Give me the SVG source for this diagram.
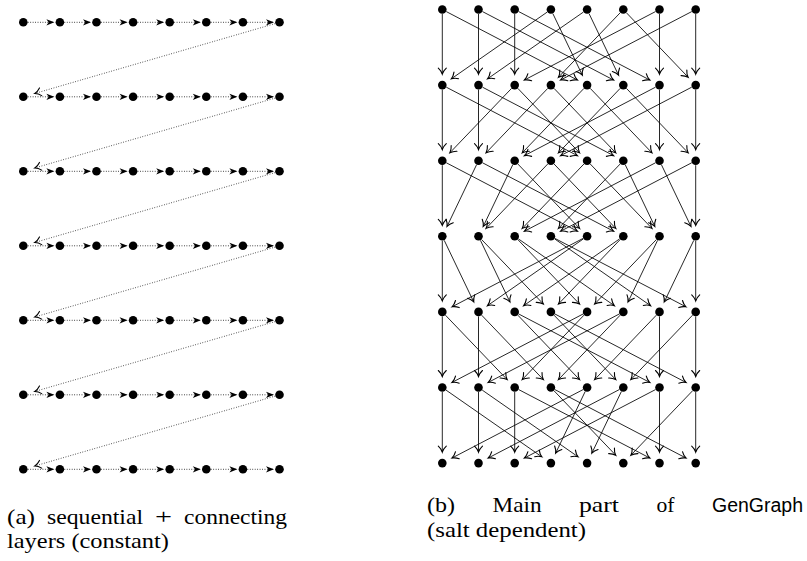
<svg xmlns="http://www.w3.org/2000/svg" width="807" height="561" viewBox="0 0 807 561">
<style>
.n circle{fill:#000}
.e line{stroke:#000;stroke-width:0.85;fill:none;marker-end:url(#to)}
.h line{stroke:#000;stroke-width:0.85;stroke-dasharray:0.85 1.6;marker-end:url(#st)}
.d line{stroke:#000;stroke-width:0.8;stroke-dasharray:0.8 1.7;marker-end:url(#to)}
.cap{font-family:"Liberation Serif","Times New Roman",serif;font-size:21px;fill:#000}
.sans{font-family:"Liberation Sans",Arial,sans-serif;font-size:20px;fill:#000}
</style>
<defs>
<marker id="to" markerUnits="userSpaceOnUse" viewBox="-8 -6 12 12" markerWidth="12" markerHeight="12" refX="0" refY="0" orient="auto" overflow="visible">
<path d="M-6,-4 C-4,-1.8 -1.4,-0.45 0,0 C-1.4,0.45 -4,1.8 -6,4" fill="none" stroke="#000" stroke-width="1.1" stroke-dasharray="none" stroke-linecap="round"/>
</marker>
<marker id="st" markerUnits="userSpaceOnUse" viewBox="-8 -6 12 12" markerWidth="12" markerHeight="12" refX="0" refY="0" orient="auto" overflow="visible">
<path d="M0.5,0 L-7.5,-3.1 L-5.3,0 L-7.5,3.1 Z" fill="#000" stroke="none"/>
</marker>
</defs>

<!-- (a) connectors -->
<g id="a-connectors">
<g class="h" transform="translate(0,22.3)"><line x1="27.8" y1="0" x2="53.9" y2="0"/><line x1="64.4" y1="0" x2="90.5" y2="0"/><line x1="101" y1="0" x2="127.1" y2="0"/><line x1="137.6" y1="0" x2="163.7" y2="0"/><line x1="174.2" y1="0" x2="200.3" y2="0"/><line x1="210.8" y1="0" x2="236.9" y2="0"/><line x1="247.4" y1="0" x2="273.5" y2="0"/></g>
<g class="h" transform="translate(0,96.8)"><line x1="27.8" y1="0" x2="53.9" y2="0"/><line x1="64.4" y1="0" x2="90.5" y2="0"/><line x1="101" y1="0" x2="127.1" y2="0"/><line x1="137.6" y1="0" x2="163.7" y2="0"/><line x1="174.2" y1="0" x2="200.3" y2="0"/><line x1="210.8" y1="0" x2="236.9" y2="0"/><line x1="247.4" y1="0" x2="273.5" y2="0"/></g>
<g class="h" transform="translate(0,171.3)"><line x1="27.8" y1="0" x2="53.9" y2="0"/><line x1="64.4" y1="0" x2="90.5" y2="0"/><line x1="101" y1="0" x2="127.1" y2="0"/><line x1="137.6" y1="0" x2="163.7" y2="0"/><line x1="174.2" y1="0" x2="200.3" y2="0"/><line x1="210.8" y1="0" x2="236.9" y2="0"/><line x1="247.4" y1="0" x2="273.5" y2="0"/></g>
<g class="h" transform="translate(0,245.8)"><line x1="27.8" y1="0" x2="53.9" y2="0"/><line x1="64.4" y1="0" x2="90.5" y2="0"/><line x1="101" y1="0" x2="127.1" y2="0"/><line x1="137.6" y1="0" x2="163.7" y2="0"/><line x1="174.2" y1="0" x2="200.3" y2="0"/><line x1="210.8" y1="0" x2="236.9" y2="0"/><line x1="247.4" y1="0" x2="273.5" y2="0"/></g>
<g class="h" transform="translate(0,320.3)"><line x1="27.8" y1="0" x2="53.9" y2="0"/><line x1="64.4" y1="0" x2="90.5" y2="0"/><line x1="101" y1="0" x2="127.1" y2="0"/><line x1="137.6" y1="0" x2="163.7" y2="0"/><line x1="174.2" y1="0" x2="200.3" y2="0"/><line x1="210.8" y1="0" x2="236.9" y2="0"/><line x1="247.4" y1="0" x2="273.5" y2="0"/></g>
<g class="h" transform="translate(0,394.8)"><line x1="27.8" y1="0" x2="53.9" y2="0"/><line x1="64.4" y1="0" x2="90.5" y2="0"/><line x1="101" y1="0" x2="127.1" y2="0"/><line x1="137.6" y1="0" x2="163.7" y2="0"/><line x1="174.2" y1="0" x2="200.3" y2="0"/><line x1="210.8" y1="0" x2="236.9" y2="0"/><line x1="247.4" y1="0" x2="273.5" y2="0"/></g>
<g class="h" transform="translate(0,469.3)"><line x1="27.8" y1="0" x2="53.9" y2="0"/><line x1="64.4" y1="0" x2="90.5" y2="0"/><line x1="101" y1="0" x2="127.1" y2="0"/><line x1="137.6" y1="0" x2="163.7" y2="0"/><line x1="174.2" y1="0" x2="200.3" y2="0"/><line x1="210.8" y1="0" x2="236.9" y2="0"/><line x1="247.4" y1="0" x2="273.5" y2="0"/></g>
<g class="d">
<line x1="275.18" y1="23.56" x2="34.82" y2="93.45"/>
<line x1="275.18" y1="98.06" x2="34.82" y2="167.95"/>
<line x1="275.18" y1="172.56" x2="34.82" y2="242.45"/>
<line x1="275.18" y1="247.06" x2="34.82" y2="316.95"/>
<line x1="275.18" y1="321.56" x2="34.82" y2="391.45"/>
<line x1="275.18" y1="396.06" x2="34.82" y2="465.95"/>
</g>
</g>

<!-- (b) connectors -->
<g id="b-connectors" class="e">
<g transform="translate(0,9.5)">
<line x1="442.3" y1="4.5" x2="442.3" y2="64.6"/>
<line x1="446.29" y1="2.08" x2="577.35" y2="70.51"/>
<line x1="478.5" y1="4.5" x2="478.5" y2="64.6"/>
<line x1="482.49" y1="2.08" x2="613.55" y2="70.51"/>
<line x1="514.7" y1="4.5" x2="514.7" y2="64.6"/>
<line x1="518.69" y1="2.08" x2="649.75" y2="70.51"/>
<line x1="547.21" y1="2.57" x2="451.33" y2="69.32"/>
<line x1="552.84" y1="4.06" x2="582.35" y2="65.68"/>
<line x1="583.41" y1="2.57" x2="487.53" y2="69.32"/>
<line x1="589.04" y1="4.06" x2="618.55" y2="65.68"/>
<line x1="620.19" y1="3.25" x2="558.51" y2="67.66"/>
<line x1="626.41" y1="3.25" x2="688.09" y2="67.66"/>
<line x1="655.51" y1="2.08" x2="524.45" y2="70.51"/>
<line x1="659.5" y1="4.5" x2="659.5" y2="64.6"/>
<line x1="691.71" y1="2.08" x2="560.65" y2="70.51"/>
<line x1="695.7" y1="4.5" x2="695.7" y2="64.6"/>
</g>
<g transform="translate(0,85.1)">
<line x1="442.3" y1="4.5" x2="442.3" y2="64.6"/>
<line x1="446.29" y1="2.08" x2="577.35" y2="70.51"/>
<line x1="478.5" y1="4.5" x2="478.5" y2="64.6"/>
<line x1="482.49" y1="2.08" x2="613.55" y2="70.51"/>
<line x1="511.59" y1="3.25" x2="449.91" y2="67.66"/>
<line x1="517.81" y1="3.25" x2="579.49" y2="67.66"/>
<line x1="547.79" y1="3.25" x2="486.11" y2="67.66"/>
<line x1="554.01" y1="3.25" x2="615.69" y2="67.66"/>
<line x1="583.99" y1="3.25" x2="522.31" y2="67.66"/>
<line x1="590.21" y1="3.25" x2="651.89" y2="67.66"/>
<line x1="620.19" y1="3.25" x2="558.51" y2="67.66"/>
<line x1="626.41" y1="3.25" x2="688.09" y2="67.66"/>
<line x1="655.51" y1="2.08" x2="524.45" y2="70.51"/>
<line x1="659.5" y1="4.5" x2="659.5" y2="64.6"/>
<line x1="691.71" y1="2.08" x2="560.65" y2="70.51"/>
<line x1="695.7" y1="4.5" x2="695.7" y2="64.6"/>
</g>
<g transform="translate(0,160.7)">
<line x1="442.3" y1="4.5" x2="442.3" y2="64.6"/>
<line x1="446.29" y1="2.08" x2="577.35" y2="70.51"/>
<line x1="476.56" y1="4.06" x2="447.05" y2="65.68"/>
<line x1="482.49" y1="2.08" x2="613.55" y2="70.51"/>
<line x1="512.76" y1="4.06" x2="483.25" y2="65.68"/>
<line x1="517.81" y1="3.25" x2="579.49" y2="67.66"/>
<line x1="547.79" y1="3.25" x2="486.11" y2="67.66"/>
<line x1="554.01" y1="3.25" x2="615.69" y2="67.66"/>
<line x1="583.99" y1="3.25" x2="522.31" y2="67.66"/>
<line x1="590.21" y1="3.25" x2="651.89" y2="67.66"/>
<line x1="620.19" y1="3.25" x2="558.51" y2="67.66"/>
<line x1="625.24" y1="4.06" x2="654.75" y2="65.68"/>
<line x1="655.51" y1="2.08" x2="524.45" y2="70.51"/>
<line x1="661.44" y1="4.06" x2="690.95" y2="65.68"/>
<line x1="691.71" y1="2.08" x2="560.65" y2="70.51"/>
<line x1="695.7" y1="4.5" x2="695.7" y2="64.6"/>
</g>
<g transform="translate(0,236.3)">
<line x1="442.3" y1="4.5" x2="442.3" y2="64.6"/>
<line x1="444.24" y1="4.06" x2="473.75" y2="65.68"/>
<line x1="480.44" y1="4.06" x2="509.95" y2="65.68"/>
<line x1="481.61" y1="3.25" x2="543.29" y2="67.66"/>
<line x1="517.81" y1="3.25" x2="579.49" y2="67.66"/>
<line x1="518.39" y1="2.57" x2="614.27" y2="69.32"/>
<line x1="554.59" y1="2.57" x2="650.47" y2="69.32"/>
<line x1="554.89" y1="2.08" x2="685.95" y2="70.51"/>
<line x1="583.11" y1="2.08" x2="452.05" y2="70.51"/>
<line x1="583.41" y1="2.57" x2="487.53" y2="69.32"/>
<line x1="619.61" y1="2.57" x2="523.73" y2="69.32"/>
<line x1="620.19" y1="3.25" x2="558.51" y2="67.66"/>
<line x1="656.39" y1="3.25" x2="594.71" y2="67.66"/>
<line x1="657.56" y1="4.06" x2="628.05" y2="65.68"/>
<line x1="693.76" y1="4.06" x2="664.25" y2="65.68"/>
<line x1="695.7" y1="4.5" x2="695.7" y2="64.6"/>
</g>
<g transform="translate(0,311.9)">
<line x1="442.3" y1="4.5" x2="442.3" y2="64.6"/>
<line x1="445.41" y1="3.25" x2="507.09" y2="67.66"/>
<line x1="478.5" y1="4.5" x2="478.5" y2="64.6"/>
<line x1="481.61" y1="3.25" x2="543.29" y2="67.66"/>
<line x1="517.81" y1="3.25" x2="579.49" y2="67.66"/>
<line x1="518.69" y1="2.08" x2="649.75" y2="70.51"/>
<line x1="554.01" y1="3.25" x2="615.69" y2="67.66"/>
<line x1="554.89" y1="2.08" x2="685.95" y2="70.51"/>
<line x1="583.11" y1="2.08" x2="452.05" y2="70.51"/>
<line x1="583.99" y1="3.25" x2="522.31" y2="67.66"/>
<line x1="619.31" y1="2.08" x2="488.25" y2="70.51"/>
<line x1="620.19" y1="3.25" x2="558.51" y2="67.66"/>
<line x1="659.5" y1="4.5" x2="659.5" y2="64.6"/>
<line x1="656.39" y1="3.25" x2="594.71" y2="67.66"/>
<line x1="695.7" y1="4.5" x2="695.7" y2="64.6"/>
<line x1="692.59" y1="3.25" x2="630.91" y2="67.66"/>
</g>
<g transform="translate(0,387.5)">
<line x1="442.3" y1="4.5" x2="442.3" y2="64.6"/>
<line x1="445.99" y1="2.57" x2="541.87" y2="69.32"/>
<line x1="478.5" y1="4.5" x2="478.5" y2="64.6"/>
<line x1="482.19" y1="2.57" x2="578.07" y2="69.32"/>
<line x1="514.7" y1="4.5" x2="514.7" y2="64.6"/>
<line x1="518.69" y1="2.08" x2="649.75" y2="70.51"/>
<line x1="554.01" y1="3.25" x2="615.69" y2="67.66"/>
<line x1="554.89" y1="2.08" x2="685.95" y2="70.51"/>
<line x1="583.11" y1="2.08" x2="452.05" y2="70.51"/>
<line x1="585.16" y1="4.06" x2="555.65" y2="65.68"/>
<line x1="619.31" y1="2.08" x2="488.25" y2="70.51"/>
<line x1="621.36" y1="4.06" x2="591.85" y2="65.68"/>
<line x1="659.5" y1="4.5" x2="659.5" y2="64.6"/>
<line x1="655.51" y1="2.08" x2="524.45" y2="70.51"/>
<line x1="695.7" y1="4.5" x2="695.7" y2="64.6"/>
<line x1="692.59" y1="3.25" x2="630.91" y2="67.66"/>
</g>
</g>

<!-- (a) nodes -->
<g id="a-nodes" class="n">
<g id="a0-0"><circle cx="23.3" cy="22.3" r="4.3"/></g><g id="a0-1"><circle cx="59.9" cy="22.3" r="4.3"/></g><g id="a0-2"><circle cx="96.5" cy="22.3" r="4.3"/></g><g id="a0-3"><circle cx="133.1" cy="22.3" r="4.3"/></g><g id="a0-4"><circle cx="169.7" cy="22.3" r="4.3"/></g><g id="a0-5"><circle cx="206.3" cy="22.3" r="4.3"/></g><g id="a0-6"><circle cx="242.9" cy="22.3" r="4.3"/></g><g id="a0-7"><circle cx="279.5" cy="22.3" r="4.3"/></g>
<g id="a1-0"><circle cx="23.3" cy="96.8" r="4.3"/></g><g id="a1-1"><circle cx="59.9" cy="96.8" r="4.3"/></g><g id="a1-2"><circle cx="96.5" cy="96.8" r="4.3"/></g><g id="a1-3"><circle cx="133.1" cy="96.8" r="4.3"/></g><g id="a1-4"><circle cx="169.7" cy="96.8" r="4.3"/></g><g id="a1-5"><circle cx="206.3" cy="96.8" r="4.3"/></g><g id="a1-6"><circle cx="242.9" cy="96.8" r="4.3"/></g><g id="a1-7"><circle cx="279.5" cy="96.8" r="4.3"/></g>
<g id="a2-0"><circle cx="23.3" cy="171.3" r="4.3"/></g><g id="a2-1"><circle cx="59.9" cy="171.3" r="4.3"/></g><g id="a2-2"><circle cx="96.5" cy="171.3" r="4.3"/></g><g id="a2-3"><circle cx="133.1" cy="171.3" r="4.3"/></g><g id="a2-4"><circle cx="169.7" cy="171.3" r="4.3"/></g><g id="a2-5"><circle cx="206.3" cy="171.3" r="4.3"/></g><g id="a2-6"><circle cx="242.9" cy="171.3" r="4.3"/></g><g id="a2-7"><circle cx="279.5" cy="171.3" r="4.3"/></g>
<g id="a3-0"><circle cx="23.3" cy="245.8" r="4.3"/></g><g id="a3-1"><circle cx="59.9" cy="245.8" r="4.3"/></g><g id="a3-2"><circle cx="96.5" cy="245.8" r="4.3"/></g><g id="a3-3"><circle cx="133.1" cy="245.8" r="4.3"/></g><g id="a3-4"><circle cx="169.7" cy="245.8" r="4.3"/></g><g id="a3-5"><circle cx="206.3" cy="245.8" r="4.3"/></g><g id="a3-6"><circle cx="242.9" cy="245.8" r="4.3"/></g><g id="a3-7"><circle cx="279.5" cy="245.8" r="4.3"/></g>
<g id="a4-0"><circle cx="23.3" cy="320.3" r="4.3"/></g><g id="a4-1"><circle cx="59.9" cy="320.3" r="4.3"/></g><g id="a4-2"><circle cx="96.5" cy="320.3" r="4.3"/></g><g id="a4-3"><circle cx="133.1" cy="320.3" r="4.3"/></g><g id="a4-4"><circle cx="169.7" cy="320.3" r="4.3"/></g><g id="a4-5"><circle cx="206.3" cy="320.3" r="4.3"/></g><g id="a4-6"><circle cx="242.9" cy="320.3" r="4.3"/></g><g id="a4-7"><circle cx="279.5" cy="320.3" r="4.3"/></g>
<g id="a5-0"><circle cx="23.3" cy="394.8" r="4.3"/></g><g id="a5-1"><circle cx="59.9" cy="394.8" r="4.3"/></g><g id="a5-2"><circle cx="96.5" cy="394.8" r="4.3"/></g><g id="a5-3"><circle cx="133.1" cy="394.8" r="4.3"/></g><g id="a5-4"><circle cx="169.7" cy="394.8" r="4.3"/></g><g id="a5-5"><circle cx="206.3" cy="394.8" r="4.3"/></g><g id="a5-6"><circle cx="242.9" cy="394.8" r="4.3"/></g><g id="a5-7"><circle cx="279.5" cy="394.8" r="4.3"/></g>
<g id="a6-0"><circle cx="23.3" cy="469.3" r="4.3"/></g><g id="a6-1"><circle cx="59.9" cy="469.3" r="4.3"/></g><g id="a6-2"><circle cx="96.5" cy="469.3" r="4.3"/></g><g id="a6-3"><circle cx="133.1" cy="469.3" r="4.3"/></g><g id="a6-4"><circle cx="169.7" cy="469.3" r="4.3"/></g><g id="a6-5"><circle cx="206.3" cy="469.3" r="4.3"/></g><g id="a6-6"><circle cx="242.9" cy="469.3" r="4.3"/></g><g id="a6-7"><circle cx="279.5" cy="469.3" r="4.3"/></g>
</g>

<!-- (b) nodes -->
<g id="b-nodes" class="n">
<g id="b0-0"><circle cx="442.3" cy="9.5" r="4.3"/></g><g id="b0-1"><circle cx="478.5" cy="9.5" r="4.3"/></g><g id="b0-2"><circle cx="514.7" cy="9.5" r="4.3"/></g><g id="b0-3"><circle cx="550.9" cy="9.5" r="4.3"/></g><g id="b0-4"><circle cx="587.1" cy="9.5" r="4.3"/></g><g id="b0-5"><circle cx="623.3" cy="9.5" r="4.3"/></g><g id="b0-6"><circle cx="659.5" cy="9.5" r="4.3"/></g><g id="b0-7"><circle cx="695.7" cy="9.5" r="4.3"/></g>
<g id="b1-0"><circle cx="442.3" cy="85.1" r="4.3"/></g><g id="b1-1"><circle cx="478.5" cy="85.1" r="4.3"/></g><g id="b1-2"><circle cx="514.7" cy="85.1" r="4.3"/></g><g id="b1-3"><circle cx="550.9" cy="85.1" r="4.3"/></g><g id="b1-4"><circle cx="587.1" cy="85.1" r="4.3"/></g><g id="b1-5"><circle cx="623.3" cy="85.1" r="4.3"/></g><g id="b1-6"><circle cx="659.5" cy="85.1" r="4.3"/></g><g id="b1-7"><circle cx="695.7" cy="85.1" r="4.3"/></g>
<g id="b2-0"><circle cx="442.3" cy="160.7" r="4.3"/></g><g id="b2-1"><circle cx="478.5" cy="160.7" r="4.3"/></g><g id="b2-2"><circle cx="514.7" cy="160.7" r="4.3"/></g><g id="b2-3"><circle cx="550.9" cy="160.7" r="4.3"/></g><g id="b2-4"><circle cx="587.1" cy="160.7" r="4.3"/></g><g id="b2-5"><circle cx="623.3" cy="160.7" r="4.3"/></g><g id="b2-6"><circle cx="659.5" cy="160.7" r="4.3"/></g><g id="b2-7"><circle cx="695.7" cy="160.7" r="4.3"/></g>
<g id="b3-0"><circle cx="442.3" cy="236.3" r="4.3"/></g><g id="b3-1"><circle cx="478.5" cy="236.3" r="4.3"/></g><g id="b3-2"><circle cx="514.7" cy="236.3" r="4.3"/></g><g id="b3-3"><circle cx="550.9" cy="236.3" r="4.3"/></g><g id="b3-4"><circle cx="587.1" cy="236.3" r="4.3"/></g><g id="b3-5"><circle cx="623.3" cy="236.3" r="4.3"/></g><g id="b3-6"><circle cx="659.5" cy="236.3" r="4.3"/></g><g id="b3-7"><circle cx="695.7" cy="236.3" r="4.3"/></g>
<g id="b4-0"><circle cx="442.3" cy="311.9" r="4.3"/></g><g id="b4-1"><circle cx="478.5" cy="311.9" r="4.3"/></g><g id="b4-2"><circle cx="514.7" cy="311.9" r="4.3"/></g><g id="b4-3"><circle cx="550.9" cy="311.9" r="4.3"/></g><g id="b4-4"><circle cx="587.1" cy="311.9" r="4.3"/></g><g id="b4-5"><circle cx="623.3" cy="311.9" r="4.3"/></g><g id="b4-6"><circle cx="659.5" cy="311.9" r="4.3"/></g><g id="b4-7"><circle cx="695.7" cy="311.9" r="4.3"/></g>
<g id="b5-0"><circle cx="442.3" cy="387.5" r="4.3"/></g><g id="b5-1"><circle cx="478.5" cy="387.5" r="4.3"/></g><g id="b5-2"><circle cx="514.7" cy="387.5" r="4.3"/></g><g id="b5-3"><circle cx="550.9" cy="387.5" r="4.3"/></g><g id="b5-4"><circle cx="587.1" cy="387.5" r="4.3"/></g><g id="b5-5"><circle cx="623.3" cy="387.5" r="4.3"/></g><g id="b5-6"><circle cx="659.5" cy="387.5" r="4.3"/></g><g id="b5-7"><circle cx="695.7" cy="387.5" r="4.3"/></g>
<g id="b6-0"><circle cx="442.3" cy="463.1" r="4.3"/></g><g id="b6-1"><circle cx="478.5" cy="463.1" r="4.3"/></g><g id="b6-2"><circle cx="514.7" cy="463.1" r="4.3"/></g><g id="b6-3"><circle cx="550.9" cy="463.1" r="4.3"/></g><g id="b6-4"><circle cx="587.1" cy="463.1" r="4.3"/></g><g id="b6-5"><circle cx="623.3" cy="463.1" r="4.3"/></g><g id="b6-6"><circle cx="659.5" cy="463.1" r="4.3"/></g><g id="b6-7"><circle cx="695.7" cy="463.1" r="4.3"/></g>
</g>

<!-- captions -->
<g id="caption-a" class="cap">
<text x="7" y="524" textLength="28" lengthAdjust="spacingAndGlyphs">(a)</text>
<text x="47" y="524" textLength="96" lengthAdjust="spacingAndGlyphs">sequential</text>
<text x="155" y="524" textLength="17" lengthAdjust="spacingAndGlyphs">+</text>
<text x="184" y="524" textLength="103" lengthAdjust="spacingAndGlyphs">connecting</text>
<text x="7" y="548" textLength="162" lengthAdjust="spacingAndGlyphs">layers (constant)</text>
</g>
<g id="caption-b" class="cap">
<text x="427" y="512" textLength="28" lengthAdjust="spacingAndGlyphs">(b)</text>
<text x="492.5" y="512" textLength="49" lengthAdjust="spacingAndGlyphs">Main</text>
<text x="579" y="512" textLength="40" lengthAdjust="spacingAndGlyphs">part</text>
<text x="656.5" y="512" textLength="18" lengthAdjust="spacingAndGlyphs">of</text>
<text class="sans" x="712" y="512" textLength="91" lengthAdjust="spacingAndGlyphs">GenGraph</text>
<text x="427" y="537" textLength="159" lengthAdjust="spacingAndGlyphs">(salt dependent)</text>
</g>
</svg>
